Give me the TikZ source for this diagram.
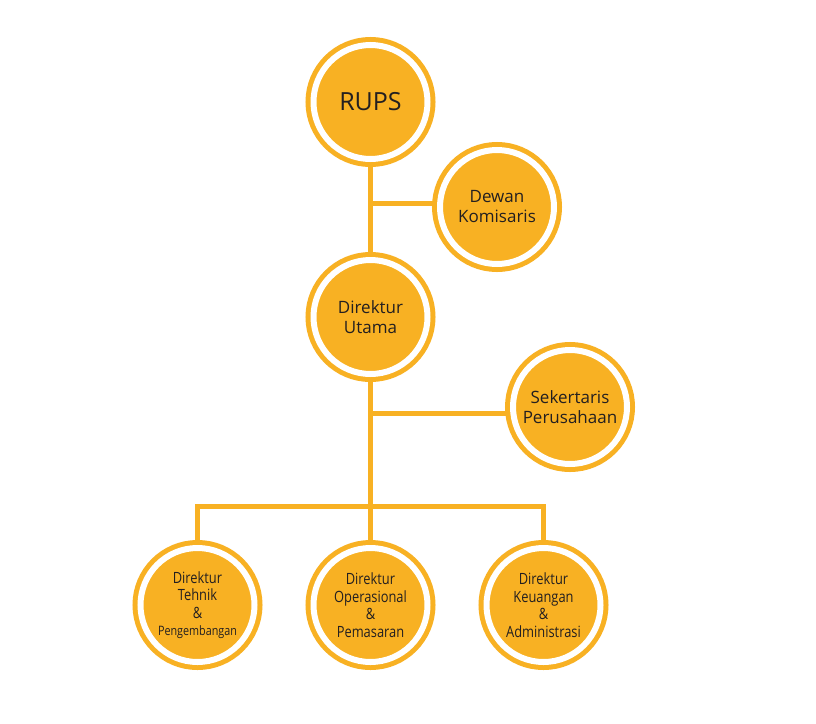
\documentclass[tikz,border=0pt]{standalone}
\usepackage{fontspec}
\setmainfont{Open Sans}
\newfontfamily\narrowfont[FakeStretch=0.83]{Open Sans}
\usetikzlibrary{backgrounds}
\definecolor{orng}{RGB}{248,177,35}
\definecolor{txt}{RGB}{35,31,32}
\begin{document}
\begin{tikzpicture}[x=1pt,y=-1pt,
  ring/.style={circle, inner sep=0pt, minimum size=114pt, fill=orng, draw=orng,
    line width=5pt, double=white, double distance=6pt, text=txt, align=center},
  midtext/.style={font={\fontsize{17}{20}\selectfont}},
  lowtext/.style={font={\narrowfont\fontsize{15.5}{17.5}\selectfont}},
  link/.style={draw=orng, line width=5pt}]
\useasboundingbox (0,0) rectangle (816,723);

\node[ring, font={\fontsize{25}{30}\selectfont}] (rups) at (370.5,102) {RUPS};
\node[ring, midtext] (dewan) at (497,207) {Dewan\\Komisaris};
\node[ring, midtext] (du) at (370.5,317) {Direktur\\Utama};
\node[ring, midtext] (sek) at (570,407) {Sekertaris\\Perusahaan};
\node[ring, lowtext] (b1) at (197.5,605) {Direktur\\Tehnik\\\&\\{\fontsize{13}{17.5}\selectfont Pengembangan}};
\node[ring, lowtext] (b2) at (370.5,605) {Direktur\\Operasional\\\&\\Pemasaran};
\node[ring, lowtext] (b3) at (543.5,605) {Direktur\\Keuangan\\\&\\Administrasi};

\coordinate (j1) at (370.5,203.5);
\coordinate (j2) at (370.5,413.5);
\coordinate (bus) at (370.5,506);

\begin{scope}[on background layer]
  \fill[white] (0,0) rectangle (816,723);
  \draw[link] (rups) -- (du);
  \draw[link] (j1) -- (j1 -| dewan.center);
  \draw[link] (du) -- (bus);
  \draw[link] (j2) -- (j2 -| sek.center);
  \draw[link] (b1) |- (bus) -| (b3);
  \draw[link] (bus) -- (b2);
\end{scope}
\end{tikzpicture}
\end{document}
